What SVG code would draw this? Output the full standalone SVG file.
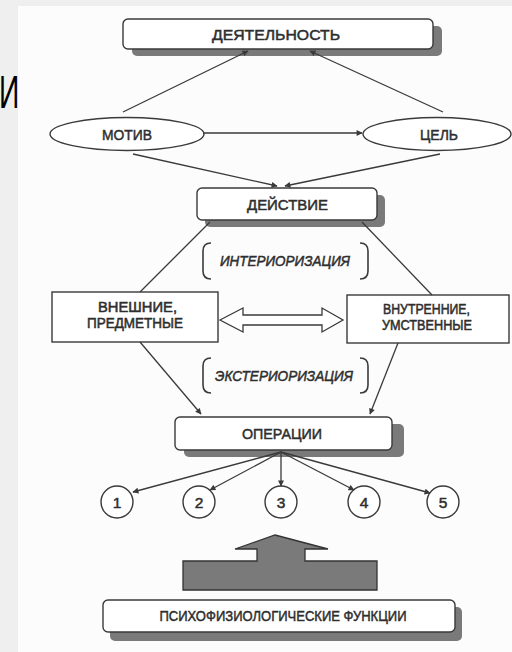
<svg xmlns="http://www.w3.org/2000/svg" width="512" height="652" viewBox="0 0 512 652">
<style>
.box{fill:#fff;stroke:#3a3a3a;stroke-width:1.4}
.sh{fill:#7a7a7a}
.t{font-family:"Liberation Sans",Arial,sans-serif;font-size:15.5px;fill:#2e2e2e;stroke:#2e2e2e;stroke-width:0.5;text-anchor:middle}
.t2{font-size:13.8px}
.ti{font-family:"Liberation Sans",Arial,sans-serif;font-size:15px;font-style:italic;fill:#2e2e2e;stroke:#2e2e2e;stroke-width:0.5;text-anchor:middle}
.ln{stroke:#3a3a3a;stroke-width:1.3;fill:none}
.lna{stroke:#3a3a3a;stroke-width:1.3;fill:none;marker-end:url(#ah)}
.br{stroke:#3a3a3a;stroke-width:1.6;fill:none}
</style>
<defs>
<marker id="ah" viewBox="0 0 10 10" refX="9" refY="5" markerWidth="8" markerHeight="6" markerUnits="userSpaceOnUse" orient="auto">
<path d="M0,0 L10,5 L0,10 z" fill="#3a3a3a"/>
</marker>
</defs>
<rect x="0" y="0" width="512" height="652" fill="#efefef"/>
<rect x="18" y="6" width="494" height="646" fill="#fcfcfc"/>
<text x="0" y="108" font-family="Liberation Sans,Arial,sans-serif" font-size="47" fill="#000" transform="translate(-1,0) scale(0.6,1)">И</text>

<g id="n-deyatelnost">
<rect class="sh" x="132" y="26" width="310" height="30" rx="5"/>
<rect class="box" x="123" y="19" width="310" height="30" rx="5"/>
<text class="t" x="276" y="39.5" textLength="128" lengthAdjust="spacingAndGlyphs">ДЕЯТЕЛЬНОСТЬ</text>
</g>
<g id="n-motiv">
<ellipse class="box" cx="127" cy="134" rx="77" ry="16.5"/>
<text class="t" x="127" y="139.5" textLength="50" lengthAdjust="spacingAndGlyphs">МОТИВ</text>
</g>
<g id="n-tsel">
<ellipse class="box" cx="437" cy="134" rx="74" ry="16.5"/>
<text class="t" x="439" y="139.5" textLength="38" lengthAdjust="spacingAndGlyphs">ЦЕЛЬ</text>
</g>
<g id="n-deystvie">
<rect class="sh" x="205" y="195" width="180" height="32" rx="5"/>
<rect class="box" x="197" y="188" width="180" height="32" rx="5"/>
<text class="t" x="287.5" y="209.5" textLength="81" lengthAdjust="spacingAndGlyphs">ДЕЙСТВИЕ</text>
</g>
<g id="n-interiorizatsiya">
<path class="br" d="M211,243 Q203,243 203,251 L203,271 Q203,279 211,279"/>
<path class="br" d="M360,243 Q368,243 368,251 L368,271 Q368,279 360,279"/>
<text class="ti" x="285" y="265.5" textLength="130" lengthAdjust="spacingAndGlyphs">ИНТЕРИОРИЗАЦИЯ</text>
</g>
<g id="n-vneshnie">
<rect class="box" x="52" y="292" width="166" height="50"/>
<text class="t t2" x="137.5" y="311.5" textLength="79" lengthAdjust="spacingAndGlyphs">ВНЕШНИЕ,</text>
<text class="t t2" x="135" y="327.5" textLength="96" lengthAdjust="spacingAndGlyphs">ПРЕДМЕТНЫЕ</text>
</g>
<g id="n-vnutrennie">
<rect class="box" x="347" y="295" width="162" height="48"/>
<text class="t t2" x="426.5" y="313.5" textLength="87" lengthAdjust="spacingAndGlyphs">ВНУТРЕННИЕ,</text>
<text class="t t2" x="427" y="329.5" textLength="90" lengthAdjust="spacingAndGlyphs">УМСТВЕННЫЕ</text>
</g>
<g id="n-eksteriorizatsiya">
<path class="br" d="M211,358 Q203,358 203,366 L203,385 Q203,393 211,393"/>
<path class="br" d="M360,358 Q368,358 368,366 L368,385 Q368,393 360,393"/>
<text class="ti" x="284" y="380.5" textLength="138" lengthAdjust="spacingAndGlyphs">ЭКСТЕРИОРИЗАЦИЯ</text>
</g>
<g id="n-operatsii">
<rect class="sh" x="184" y="424" width="220" height="33" rx="5"/>
<rect class="box" x="175" y="417" width="217" height="33" rx="5"/>
<text class="t" x="282" y="438.5" textLength="80" lengthAdjust="spacingAndGlyphs">ОПЕРАЦИИ</text>
</g>
<g id="n-1"><circle class="box" cx="117" cy="502" r="16"/><text class="t" x="117" y="508" font-size="16">1</text></g>
<g id="n-2"><circle class="box" cx="199" cy="502" r="16"/><text class="t" x="199" y="508" font-size="16">2</text></g>
<g id="n-3"><circle class="box" cx="281" cy="502" r="16"/><text class="t" x="281" y="508" font-size="16">3</text></g>
<g id="n-4"><circle class="box" cx="364" cy="502" r="16"/><text class="t" x="364" y="508" font-size="16">4</text></g>
<g id="n-5"><circle class="box" cx="443" cy="502" r="16"/><text class="t" x="443" y="508" font-size="16">5</text></g>
<g id="n-psikhofiziol">
<rect class="sh" x="110" y="607" width="352" height="34" rx="5"/>
<rect class="box" x="103" y="600" width="352" height="32" rx="5"/>
<text class="t" x="283" y="621" font-size="14" textLength="247" lengthAdjust="spacingAndGlyphs">ПСИХОФИЗИОЛОГИЧЕСКИЕ ФУНКЦИИ</text>
</g>

<g id="connectors">
<line class="lna" x1="123" y1="112" x2="248" y2="51"/>
<line class="lna" x1="443" y1="112" x2="310" y2="51"/>
<line class="lna" x1="203" y1="133" x2="362" y2="133"/>
<line class="lna" x1="133" y1="154" x2="277" y2="186"/>
<line class="lna" x1="440" y1="154" x2="285" y2="186"/>
<line class="ln" x1="210" y1="222" x2="140" y2="292"/>
<line class="ln" x1="362" y1="222" x2="432" y2="295"/>
<line class="lna" x1="140" y1="342" x2="201" y2="414"/>
<line class="lna" x1="398" y1="343" x2="370" y2="414"/>
<line class="lna" x1="281" y1="452" x2="133" y2="492"/>
<line class="lna" x1="281" y1="452" x2="210" y2="490"/>
<line class="lna" x1="281" y1="452" x2="281" y2="486"/>
<line class="lna" x1="281" y1="452" x2="354" y2="490"/>
<line class="lna" x1="281" y1="452" x2="430" y2="493"/>
<path d="M220,320 L243,308 L243,315 L322,315 L322,308 L343,320 L322,332 L322,325 L243,325 L243,332 Z" fill="#fff" stroke="#3a3a3a" stroke-width="1.3"/>
<path d="M275,535 L328,549 L305,549 L305,561 L377,561 L377,590 L183,590 L183,561 L257,561 L257,549 L235,549 Z" fill="#7a7a7a" stroke="#333" stroke-width="1.3"/>
</g>
</svg>
